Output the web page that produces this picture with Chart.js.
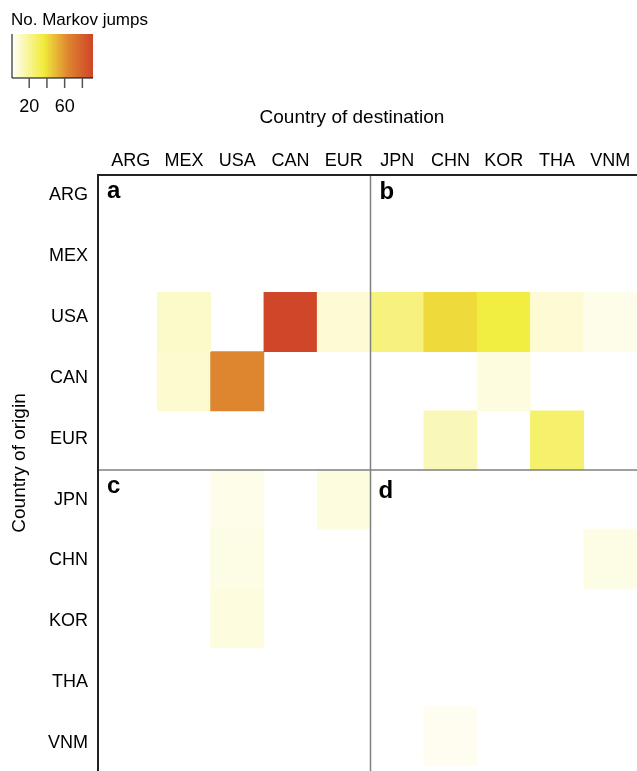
<!DOCTYPE html>
<html>
<head>
<meta charset="utf-8">
<script src="https://cdn.jsdelivr.net/npm/chart.js@4.4.1/dist/chart.umd.min.js"></script>
<style>
  html, body { margin: 0; padding: 0; background: #fff; }
  #wrap { width: 637px; height: 771px; }
</style>
</head>
<body>
<div id="wrap"><canvas id="heat"></canvas></div>
<script>
const destinations = ["ARG", "MEX", "USA", "CAN", "EUR", "JPN", "CHN", "KOR", "THA", "VNM"];
const origins = ["ARG", "MEX", "USA", "CAN", "EUR", "JPN", "CHN", "KOR", "THA", "VNM"];

// mean no. of Markov jumps, origin (row) -> destination (column), 0 = none
const jumpsARG = [0, 0, 0, 0, 0, 0, 0, 0, 0, 0];
const jumpsMEX = [0, 0, 0, 0, 0, 0, 0, 0, 0, 0];
const jumpsUSA = [0, 10, 0, 91, 8, 24, 41, 35, 8, 4];
const jumpsCAN = [0, 9, 64, 0, 0, 0, 0, 6, 0, 0];
const jumpsEUR = [0, 0, 0, 0, 0, 0, 13, 0, 27, 0];
const jumpsJPN = [0, 0, 4, 0, 6, 0, 0, 0, 0, 0];
const jumpsCHN = [0, 0, 5, 0, 0, 0, 0, 0, 0, 5];
const jumpsKOR = [0, 0, 6, 0, 0, 0, 0, 0, 0, 0];
const jumpsTHA = [0, 0, 0, 0, 0, 0, 0, 0, 0, 0];
const jumpsVNM = [0, 0, 0, 0, 0, 0, 3, 0, 0, 0];

const legendTicks = [20, 40, 60, 80];
const legendTickLabels = ["20", "", "60", ""];
const legendMax = 92;

// colour ramp white -> yellow -> orange -> red
const rampStops = [
  [0, [255, 255, 255]],
  [36, [242, 236, 60]],
  [64, [222, 133, 48]],
  [92, [207, 68, 40]],
];

function rampColor(v) {
  for (let k = 1; k < rampStops.length; k++) {
    const [v1, c1] = rampStops[k];
    const [v0, c0] = rampStops[k - 1];
    if (v <= v1 || k === rampStops.length - 1) {
      const t = Math.max(0, Math.min(1, (v - v0) / (v1 - v0)));
      const c = c0.map((x, i) => Math.round(x + (c1[i] - x) * t));
      return `rgb(${c[0]}, ${c[1]}, ${c[2]})`;
    }
  }
}

const rows = [jumpsARG, jumpsMEX, jumpsUSA, jumpsCAN, jumpsEUR, jumpsJPN, jumpsCHN, jumpsKOR, jumpsTHA, jumpsVNM];

const datasets = rows.map((row, i) => ({
  label: origins[i],
  data: row.map((v) => (v > 0 ? [i, i + 1] : null)),
  backgroundColor: row.map((v) => rampColor(v)),
  grouped: false,
  barPercentage: 1,
  categoryPercentage: 1,
  borderWidth: 0,
}));

// row labels in the original sit on a slightly wider spacing than the cells
const labelValues = origins.map((_, i) => 0.36 + i * 1.028);

const FONT = "'Liberation Sans', Arial, Helvetica, sans-serif";

const decorations = {
  id: "decorations",
  afterDatasetsDraw(chart) {
    const { ctx, chartArea, scales } = chart;
    const x = scales.x;
    const y = scales.y;
    const H = chart.height;
    ctx.save();

    // panel dividers
    const midX = (x.getPixelForTick(4) + x.getPixelForTick(5)) / 2;
    const midY = y.getPixelForValue(5);
    ctx.strokeStyle = "#808080";
    ctx.lineWidth = 1.5;
    ctx.beginPath();
    ctx.moveTo(midX, chartArea.top);
    ctx.lineTo(midX, H);
    ctx.moveTo(chartArea.left - 6, midY);
    ctx.lineTo(chartArea.right, midY);
    ctx.stroke();

    // box lines (left and top)
    ctx.strokeStyle = "#222";
    ctx.lineWidth = 2;
    ctx.beginPath();
    ctx.moveTo(chartArea.left - 6, H);
    ctx.lineTo(chartArea.left - 6, chartArea.top + 1);
    ctx.lineTo(chartArea.right, chartArea.top + 1);
    ctx.stroke();

    // panel letters
    ctx.fillStyle = "#000";
    ctx.font = `bold 24px ${FONT}`;
    ctx.textBaseline = "alphabetic";
    ctx.textAlign = "left";
    ctx.fillText("a", chartArea.left + 3, chartArea.top + 24);
    ctx.fillText("b", midX + 9, chartArea.top + 25);
    ctx.fillText("c", chartArea.left + 3, midY + 23);
    ctx.fillText("d", midX + 8, midY + 28);

    // axis titles
    ctx.font = `19px ${FONT}`;
    ctx.textAlign = "center";
    ctx.textBaseline = "middle";
    ctx.fillText("Country of destination", 352, 118);
    ctx.save();
    ctx.translate(20, 463);
    ctx.rotate(-Math.PI / 2);
    ctx.fillText("Country of origin", 0, 0);
    ctx.restore();

    // colour key
    const kx0 = 11.5, kx1 = 93, ky0 = 34, ky1 = 78;
    const toX = (v) => kx0 + (v / legendMax) * (kx1 - kx0);
    const grad = ctx.createLinearGradient(kx0, 0, kx1, 0);
    rampStops.forEach(([v, c]) => grad.addColorStop(v / legendMax, `rgb(${c[0]}, ${c[1]}, ${c[2]})`));
    ctx.fillStyle = grad;
    ctx.fillRect(kx0, ky0, kx1 - kx0, ky1 - ky0);
    ctx.strokeStyle = "#000";
    ctx.lineWidth = 1;
    ctx.beginPath();
    ctx.moveTo(12, ky0);
    ctx.lineTo(12, ky1);
    ctx.lineTo(kx1, ky1);
    ctx.stroke();
    ctx.strokeStyle = "#555";
    ctx.lineWidth = 1.5;
    ctx.beginPath();
    legendTicks.forEach((t) => {
      ctx.moveTo(toX(t), ky1);
      ctx.lineTo(toX(t), ky1 + 10);
    });
    ctx.stroke();
    ctx.fillStyle = "#000";
    ctx.font = `18px ${FONT}`;
    ctx.textBaseline = "alphabetic";
    legendTicks.forEach((t, i) => {
      if (legendTickLabels[i]) ctx.fillText(legendTickLabels[i], toX(t), 112);
    });
    ctx.textAlign = "left";
    ctx.font = `17px ${FONT}`;
    ctx.fillText("No. Markov jumps", 11, 25);

    ctx.restore();
  },
};

new Chart(document.getElementById("heat"), {
  type: "bar",
  data: { labels: destinations, datasets },
  options: {
    responsive: true,
    maintainAspectRatio: false,
    devicePixelRatio: 1,
    animation: false,
    layout: { padding: { top: 100, bottom: 5, left: 0, right: 0 } },
    plugins: {
      legend: { display: false },
      tooltip: { enabled: false },
    },
    scales: {
      x: {
        type: "category",
        position: "top",
        offset: true,
        grid: { display: false, drawTicks: false },
        border: { display: false },
        ticks: {
          color: "#000",
          font: { family: FONT, size: 18 },
          padding: 2,
          maxRotation: 0,
          autoSkip: false,
        },
        afterFit: (s) => {
          s.height = 74;
          s.paddingLeft = 0;
          s.paddingRight = 0;
        },
      },
      y: {
        type: "linear",
        min: 0,
        max: 10,
        reverse: true,
        grid: { display: false, drawTicks: false },
        border: { display: false },
        afterBuildTicks: (s) => { s.ticks = labelValues.map((v) => ({ value: v })); },
        ticks: {
          color: "#000",
          font: { family: FONT, size: 18 },
          padding: 16,
          callback: (val, idx) => origins[idx],
        },
        afterFit: (s) => {
          s.width = 104;
          s.paddingTop = 0;
          s.paddingBottom = 0;
        },
      },
    },
  },
  plugins: [decorations],
});
</script>
</body>
</html>
